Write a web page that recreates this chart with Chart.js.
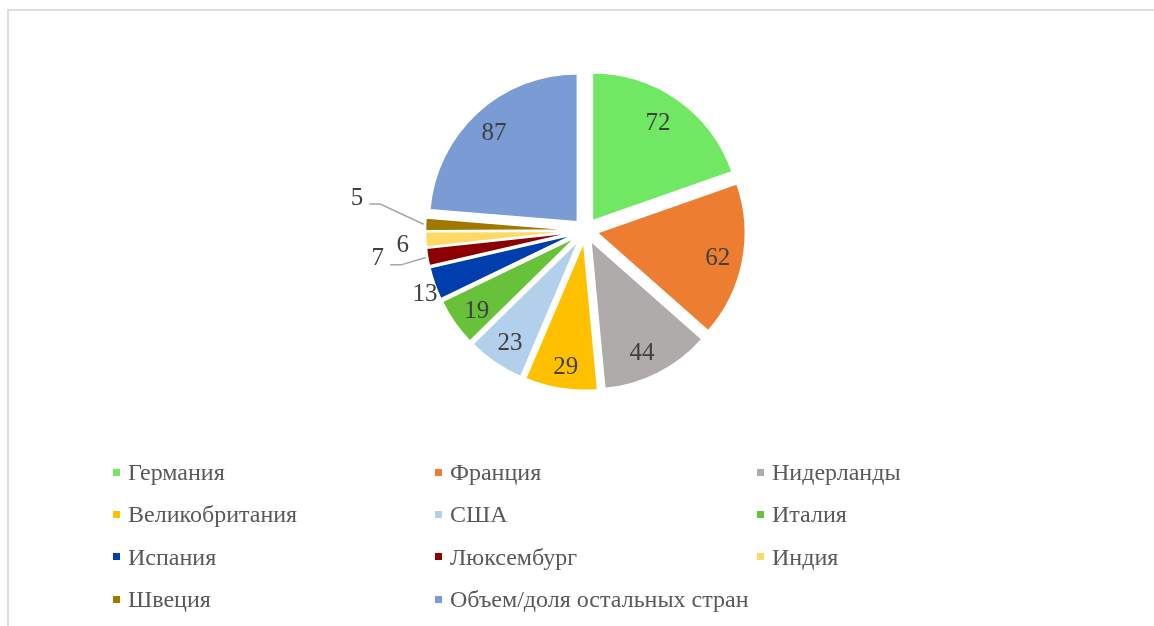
<!DOCTYPE html>
<html>
<head>
<meta charset="utf-8">
<script src="https://cdn.jsdelivr.net/npm/chart.js@4.4.1/dist/chart.umd.min.js"></script>
<style>
  html, body { margin: 0; padding: 0; background: #fff; }
  body { width: 1154px; height: 626px; position: relative; overflow: hidden; }
  #frame { position: absolute; left: 7px; top: 9px; width: 1200px; height: 700px; border: 2px solid #dedede; box-sizing: border-box; }
  #c { position: absolute; left: 0; top: 0; }
  #legend { position: absolute; left: 113px; top: 458px; display: grid; grid-template-columns: 322px 322px 322px; grid-auto-rows: 42.4px; font-family: "Liberation Serif", "Times New Roman", serif; font-size: 24px; color: #595959; }
  .item { display: flex; align-items: center; white-space: nowrap; height: 28px; line-height: 28px; }
  .sw { width: 7px; height: 7px; margin-right: 8px; flex: none; }
</style>
</head>
<body>
<div id="frame"></div>
<canvas id="c" width="1154" height="626"></canvas>
<div id="legend"></div>
<script>
const categories = ["Германия", "Франция", "Нидерланды", "Великобритания", "США", "Италия", "Испания", "Люксембург", "Индия", "Швеция", "Объем/доля остальных стран"];
const values = [72, 62, 44, 29, 23, 19, 13, 7, 6, 5, 87];
const colors = ["#70E864", "#ED7D31", "#AFABAB", "#FFC000", "#B2D0EB", "#67C23A", "#003DAD", "#8B0000", "#FFD966", "#A07800", "#7B9BD5"];

// label placement styles (fraction of radius along slice middle, angular nudge in degrees)
const labelRadius = [0.794, 0.832, 0.831, 0.851, 0.835, 0.833, 1.086, 1.335, 1.157, 1.479, 0.823];
const labelNudge = [-1.4, 0.8, 2.5, -0.7, -0.5, -1.6, -2.4, 1.9, -1.5, 6.2, -0.6];
const leaderLine = [false, false, false, false, false, false, false, true, false, true, false];

const EXPLODE = 12;
const RADIUS = 148;

const explodePlugin = {
  id: 'explode',
  afterDatasetsUpdate(chart) {
    chart.getDatasetMeta(0).data.forEach(arc => {
      const mid = (arc.startAngle + arc.endAngle) / 2;
      arc.x += Math.cos(mid) * EXPLODE;
      arc.y += Math.sin(mid) * EXPLODE;
    });
  }
};

const labelPlugin = {
  id: 'sliceLabels',
  afterDatasetsDraw(chart) {
    const ctx = chart.ctx;
    const meta = chart.getDatasetMeta(0);
    ctx.save();
    ctx.font = '25px "Liberation Serif", "Times New Roman", serif';
    ctx.fillStyle = '#404040';
    ctx.textAlign = 'center';
    ctx.textBaseline = 'middle';
    meta.data.forEach((arc, i) => {
      const mid = (arc.startAngle + arc.endAngle) / 2;
      const a = mid + labelNudge[i] * Math.PI / 180;
      const r = arc.outerRadius * labelRadius[i];
      const lx = arc.x + Math.cos(a) * r;
      const ly = arc.y + Math.sin(a) * r;
      const txt = String(values[i]);
      ctx.fillText(txt, lx, ly);
      if (leaderLine[i]) {
        const w = ctx.measureText(txt).width;
        const sx = lx + w / 2 + 6, sy = ly + 6;
        const ex = arc.x + Math.cos(mid) * (arc.outerRadius + 2);
        const ey = arc.y + Math.sin(mid) * (arc.outerRadius + 2);
        ctx.beginPath();
        ctx.strokeStyle = '#a6a6a6';
        ctx.lineWidth = 1.5;
        ctx.moveTo(sx, sy);
        ctx.lineTo(sx + 11, sy);
        ctx.lineTo(ex, ey);
        ctx.stroke();
      }
    });
    ctx.restore();
  }
};

new Chart(document.getElementById('c'), {
  type: 'pie',
  data: {
    labels: categories,
    datasets: [{
      data: values,
      backgroundColor: colors,
      borderColor: '#ffffff',
      borderWidth: 1.5
    }]
  },
  options: {
    responsive: false,
    animation: false,
    events: [],
    radius: RADIUS,
    layout: { padding: { left: 17, right: 0, top: 0, bottom: 165 } },
    plugins: { legend: { display: false }, tooltip: { enabled: false } }
  },
  plugins: [explodePlugin, labelPlugin]
});

const legend = document.getElementById('legend');
categories.forEach((name, i) => {
  const item = document.createElement('div');
  item.className = 'item';
  const sw = document.createElement('span');
  sw.className = 'sw';
  sw.style.background = colors[i];
  const t = document.createElement('span');
  t.textContent = name;
  item.appendChild(sw);
  item.appendChild(t);
  legend.appendChild(item);
});
</script>
</body>
</html>
